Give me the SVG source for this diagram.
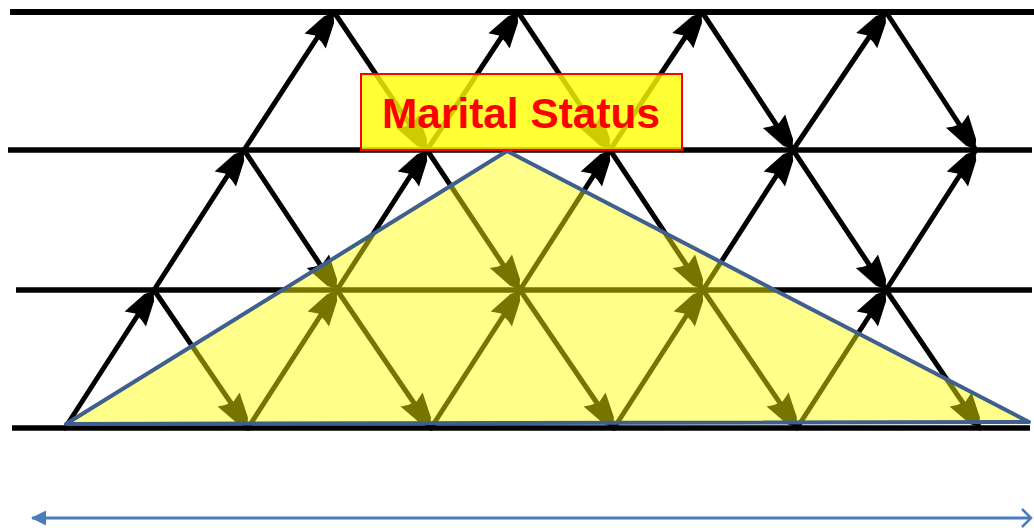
<svg xmlns="http://www.w3.org/2000/svg" width="1034" height="531" viewBox="0 0 1034 531">
  <style>
    .hline { stroke: #000; stroke-linecap: butt; }
    .seg { stroke: #000; stroke-width: 5; stroke-linecap: round; marker-end: url(#ah); }
    .label { font-family: "Liberation Sans", Arial, sans-serif; font-weight: bold; font-size: 42px; fill: #FF0000; }
  </style>
  <defs>
    <marker id="ah" markerUnits="userSpaceOnUse" viewBox="-40 -18 44 36" markerWidth="44" markerHeight="36" refX="1" refY="0" orient="auto">
      <path d="M0,0 L-8,-6 L-33,-13 L-29,-3 L-31,6 L-34,13 L-8,6 Z" fill="#000"/>
    </marker>
    <marker id="blueHead" markerUnits="userSpaceOnUse" viewBox="0 0 16 16" markerWidth="16" markerHeight="16" refX="1" refY="8" orient="auto">
      <path d="M0,8 L15,0.5 L15,15.5 Z" fill="#4A7EBB"/>
    </marker>
  </defs>

  <g id="rows">
    <line class="hline" x1="10" y1="12" x2="1034" y2="12" stroke-width="6"/>
    <line class="hline" x1="8" y1="150" x2="1032" y2="150" stroke-width="5.5"/>
    <line class="hline" x1="16" y1="290" x2="1032" y2="290" stroke-width="5.5"/>
    <line class="hline" x1="12" y1="428" x2="1030" y2="428" stroke-width="5.5"/>
  </g>

  <g id="connectors">
    <!-- upward segments -->
    <line class="seg" x1="65" y1="428" x2="154" y2="290"/>
    <line class="seg" x1="248" y1="428" x2="337" y2="290"/>
    <line class="seg" x1="431" y1="428" x2="520" y2="290"/>
    <line class="seg" x1="614" y1="428" x2="703" y2="290"/>
    <line class="seg" x1="797" y1="428" x2="886" y2="290"/>
    <line class="seg" x1="154" y1="290" x2="244" y2="150"/>
    <line class="seg" x1="337" y1="290" x2="427" y2="150"/>
    <line class="seg" x1="520" y1="290" x2="610" y2="150"/>
    <line class="seg" x1="703" y1="290" x2="793" y2="150"/>
    <line class="seg" x1="886" y1="290" x2="976" y2="150"/>
    <line class="seg" x1="244" y1="150" x2="334" y2="12"/>
    <line class="seg" x1="427" y1="150" x2="518" y2="12"/>
    <line class="seg" x1="610" y1="150" x2="702" y2="12"/>
    <line class="seg" x1="793" y1="150" x2="886" y2="12"/>
    <!-- downward segments -->
    <line class="seg" x1="334" y1="12" x2="427" y2="150"/>
    <line class="seg" x1="518" y1="12" x2="610" y2="150"/>
    <line class="seg" x1="702" y1="12" x2="793" y2="150"/>
    <line class="seg" x1="886" y1="12" x2="976" y2="150"/>
    <line class="seg" x1="244" y1="150" x2="337" y2="290"/>
    <line class="seg" x1="427" y1="150" x2="520" y2="290"/>
    <line class="seg" x1="610" y1="150" x2="703" y2="290"/>
    <line class="seg" x1="793" y1="150" x2="886" y2="290"/>
    <line class="seg" x1="154" y1="290" x2="248" y2="428"/>
    <line class="seg" x1="337" y1="290" x2="431" y2="428"/>
    <line class="seg" x1="520" y1="290" x2="614" y2="428"/>
    <line class="seg" x1="703" y1="290" x2="797" y2="428"/>
    <line class="seg" x1="886" y1="290" x2="980" y2="428"/>
  </g>

  <g id="triangle">
    <polygon points="66,424 507,151 1029,422" fill="#FFFF00" fill-opacity="0.46" stroke="#3F5F8C" stroke-width="4" stroke-linejoin="round"/>
  </g>

  <g id="marital-status">
    <rect x="361" y="74" width="321" height="76" fill="#FFFF00" fill-opacity="0.8" stroke="#FF0000" stroke-width="2"/>
    <text class="label" x="521" y="128" text-anchor="middle" textLength="278" lengthAdjust="spacingAndGlyphs">Marital Status</text>
  </g>

  <g id="span-arrow">
    <line x1="32" y1="518" x2="1031" y2="518" stroke="#4A7EBB" stroke-width="3" marker-start="url(#blueHead)"/>
    <polyline points="1022,509 1031,518 1022,527" fill="none" stroke="#4A7EBB" stroke-width="2.5"/>
  </g>
</svg>
